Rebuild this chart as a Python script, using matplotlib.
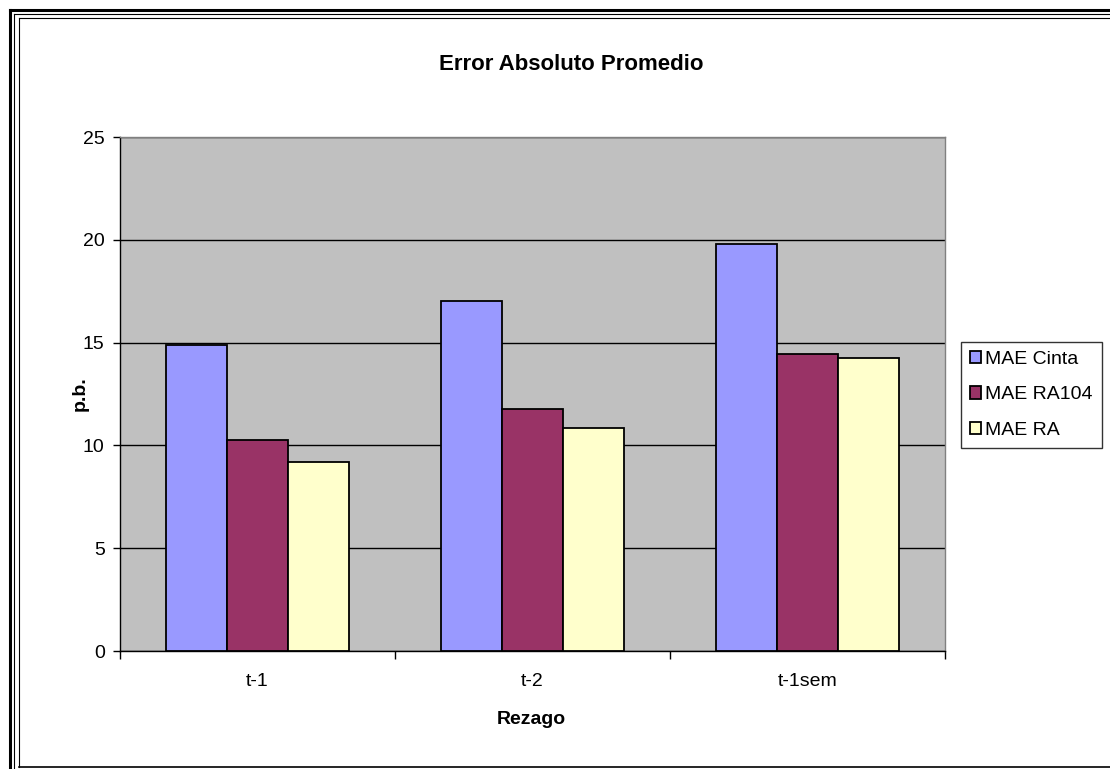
import matplotlib.pyplot as plt
import numpy as np
from matplotlib.lines import Line2D

plt.rcParams['font.family'] = ['Liberation Sans', 'DejaVu Sans']

# data
categorias = ['t-1', 't-2', 't-1sem']
mae_cinta = [14.9, 17.0, 19.8]
mae_ra104 = [10.25, 11.75, 14.45]
mae_ra = [9.2, 10.85, 14.25]
series = ['MAE Cinta', 'MAE RA104', 'MAE RA']
colores = ['#9999FF', '#993366', '#FFFFCC']

W, H = 1110, 769
fig = plt.figure(figsize=(W / 100, H / 100), dpi=100)
ax = fig.add_axes([120 / W, 1 - 651 / H, 825 / W, 514 / H])
ax.set_facecolor('#C0C0C0')

x = np.arange(len(categorias))
ancho = 1 / 4.5
for i, (vals, nombre, col) in enumerate(zip([mae_cinta, mae_ra104, mae_ra], series, colores)):
    ax.bar(x + (i - 1) * ancho, vals, ancho, color=col, edgecolor='black',
           linewidth=1.3, label=nombre, zorder=3)

ax.set_xlim(-0.5, len(categorias) - 0.5)
ax.set_ylim(0, 25)
ax.set_yticks([0, 5, 10, 15, 20, 25])
ax.yaxis.grid(True, color='black', linewidth=1.0, zorder=1)
ax.set_axisbelow(True)

ax.set_xticks(x)
ax.set_xticklabels(categorias)
ax.set_xticks(np.arange(len(categorias) + 1) - 0.5, minor=True)
ax.tick_params(axis='x', which='major', length=0, pad=16, labelsize=14)
ax.tick_params(axis='x', which='minor', length=6, width=1, direction='out')
ax.tick_params(axis='y', length=5, width=1, direction='out', pad=6, labelsize=14)

for s in ['left', 'bottom']:
    ax.spines[s].set_color('black')
    ax.spines[s].set_linewidth(1)
for s in ['top', 'right']:
    ax.spines[s].set_color('#808080')
    ax.spines[s].set_linewidth(1)

fig.text(571 / W, 1 - 65 / H, 'Error Absoluto Promedio', ha='center', va='center',
         fontsize=16, fontweight='bold')
fig.text(531 / W, 1 - 719 / H, 'Rezago', ha='center', va='center',
         fontsize=14, fontweight='bold')
fig.text(80 / W, 1 - 394 / H, 'p.b.', ha='center', va='center', rotation=90,
         fontsize=14, fontweight='bold')

leg = fig.legend(loc='upper left', bbox_to_anchor=(961 / W, 1 - 342 / H),
                 fontsize=14, frameon=True, fancybox=False, edgecolor='black',
                 handlelength=0.6, handleheight=0.6, handletextpad=0.2,
                 labelspacing=0.95, borderpad=0.45, borderaxespad=0)
leg.get_frame().set_linewidth(1)

# triple border around the chart area
def linea(xs, ys, lw):
    fig.add_artist(Line2D([v / W for v in xs], [1 - v / H for v in ys],
                          color='black', linewidth=lw, transform=fig.transFigure))

linea([9.5, 9.5], [769, 10], 2.2)
linea([9.5, W], [10, 10], 2.2)
linea([13.5, 13.5], [769, 14], 0.8)
linea([13.5, W], [14, 14], 0.8)
linea([18.5, 18.5], [767, 17.5], 0.8)
linea([18.5, W], [17.5, 17.5], 0.8)
linea([18.5, W], [767, 767], 1.2)

fig.savefig('out.png', dpi=100)
